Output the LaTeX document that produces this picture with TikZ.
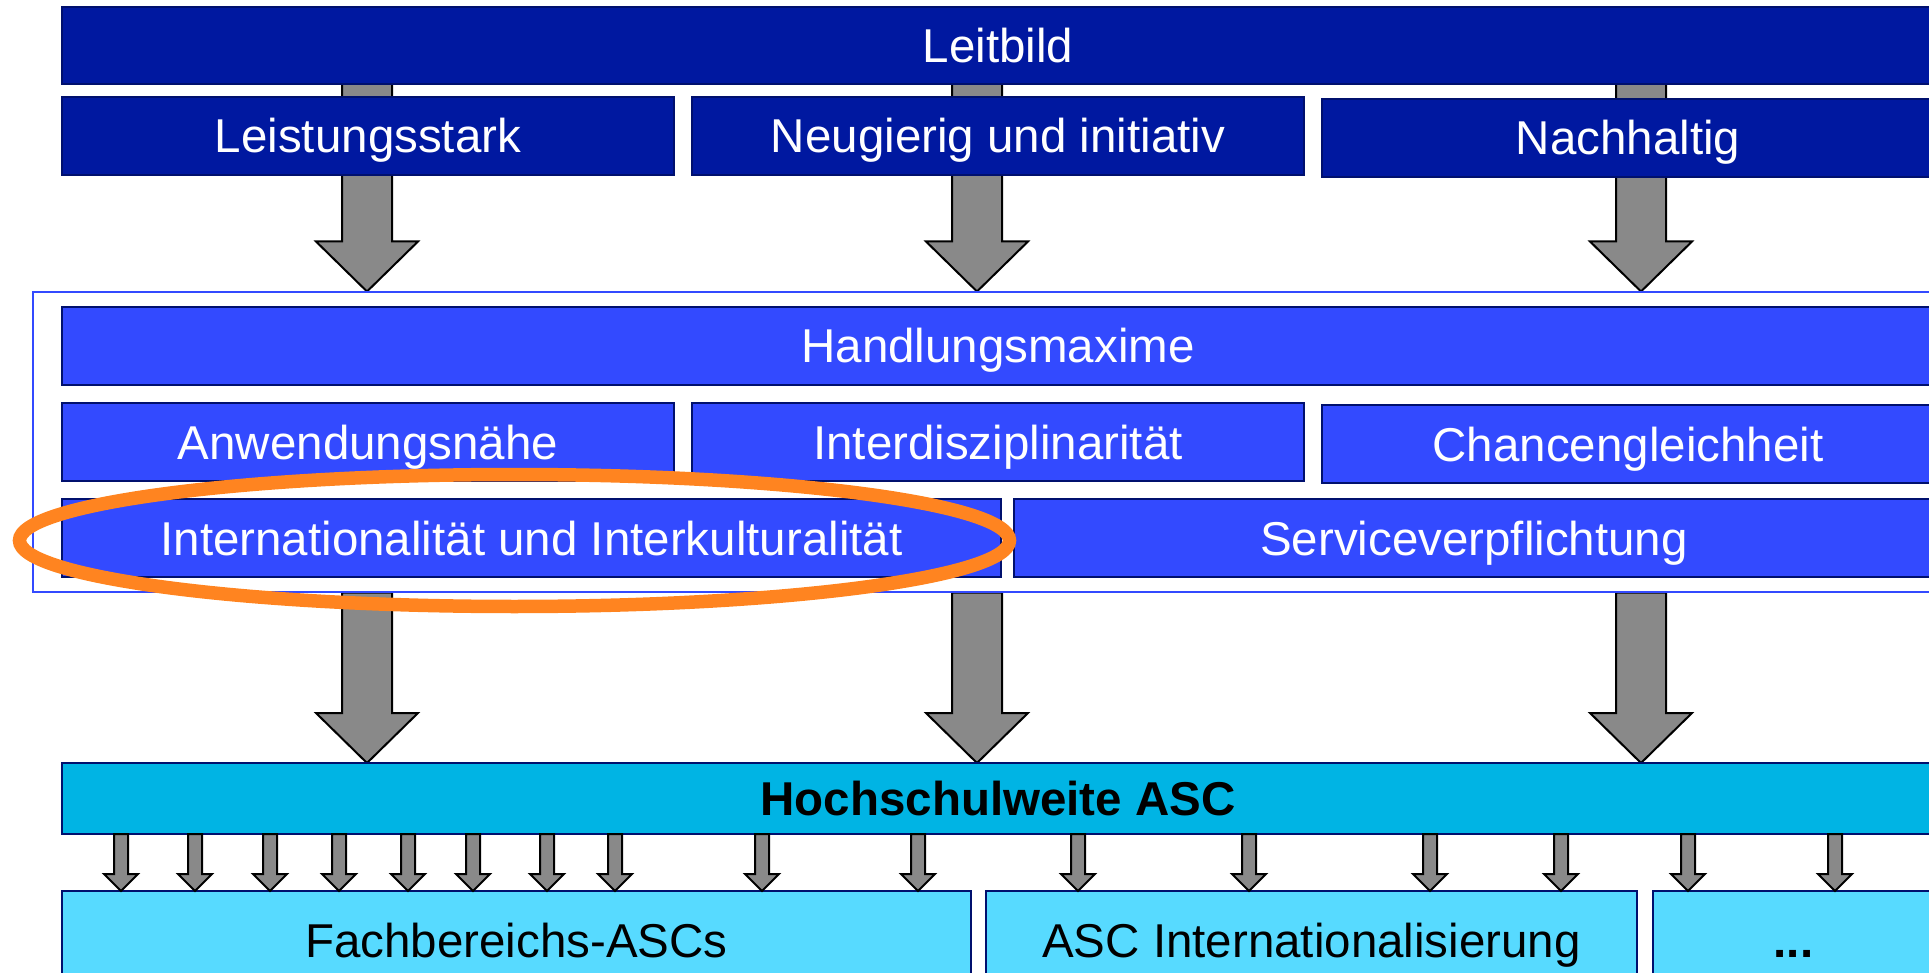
\documentclass[tikz,border=0pt]{standalone}
\usepackage{fontspec}
\setmainfont{Liberation Sans}
\usetikzlibrary{positioning,fit,backgrounds,calc,shapes.geometric}

\definecolor{leitnavy}{HTML}{0018A0}
\definecolor{maxblue}{HTML}{334AFF}
\definecolor{ascblue}{HTML}{00B4E4}
\definecolor{asclight}{HTML}{57DAFF}
\definecolor{edgenavy}{HTML}{00106E}
\definecolor{arrowgray}{HTML}{898989}
\definecolor{ringorange}{HTML}{FF8420}

% block arrow: x, from, to, shaft half width, head half width, head length
\newcommand\blockarrow[6]{%
  \edef\arrx{#1}%
  \path[blockarr] let \p1=(#2), \p2=(#3) in
    (\arrx-#4,\y1) -- (\arrx+#4,\y1) -- (\arrx+#4,\y2+#6) -- (\arrx+#5,\y2+#6)
    -- (\arrx,\y2) -- (\arrx-#5,\y2+#6) -- (\arrx-#4,\y2+#6) -- cycle;}

\begin{document}
\begin{tikzpicture}[
    font=\fontsize{23.75}{28}\selectfont,
    tile/.style={
        draw=edgenavy,
        line width=1pt,
        inner sep=0pt,
        outer sep=0pt,
        minimum height=39pt,
        text height=17pt,
        text depth=0pt,
        align=center
    },
    leit/.style={tile, fill=leitnavy, text=white},
    maxim/.style={tile, fill=maxblue, text=white},
    asc/.style={tile, fill=ascblue, text=black, font=\fontsize{23.75}{28}\selectfont\bfseries},
    unit/.style={tile, fill=asclight, text=black, minimum height=49pt},
    frame/.style={
        draw=maxblue,
        line width=1pt,
        inner xsep=14.5pt,
        inner ysep=7.25pt
    },
    blockarr/.style={fill=arrowgray, draw=black, line width=1pt},
    ring/.style={draw=ringorange, line width=6.75pt, ellipse, inner sep=0pt}
]

\useasboundingbox (0,0) rectangle (964.5pt,-486.5pt);
\clip (0,0) rectangle (964.5pt,-486.5pt);

% Leitbild
\node[leit, minimum width=936pt, minimum height=38.5pt, anchor=north west] (leitbild) at (31pt,-3.5pt) {Leitbild};
\node[leit, minimum width=306pt, below=6.5pt of leitbild.south west, anchor=north west] (lstark) {Leistungsstark};
\node[leit, minimum width=306pt, right=9pt of lstark] (neugier) {Neugierig und initiativ};
\node[leit, minimum width=306pt, right=9pt of neugier, yshift=-1pt] (nachhalt) {Nachhaltig};

% Handlungsmaxime
\node[maxim, minimum width=936pt, below=66pt of lstark.south west, anchor=north west] (handl) {Handlungsmaxime};
\node[maxim, minimum width=306pt, below=9pt of handl.south west, anchor=north west] (anwend) {Anwendungsnähe};
\node[maxim, minimum width=306pt, right=9pt of anwend] (interdis) {Interdisziplinarität};
\node[maxim, minimum width=306pt, right=9pt of interdis, yshift=-1pt] (chancen) {Chancengleichheit};
\node[maxim, minimum width=469.5pt, below=9pt of anwend.south west, anchor=north west] (internat) {Internationalität und Interkulturalität};
\node[maxim, minimum width=460pt, right=6.5pt of internat] (service) {Serviceverpflichtung};

\node[frame, fit=(handl)(internat)(service)] (frame) {};

% ASC
\node[asc, minimum width=936pt, minimum height=35.5pt, below=93pt of internat.south west, anchor=north west] (hsasc) {Hochschulweite ASC};
\node[unit, minimum width=454.5pt, below=28.5pt of hsasc.south west, anchor=north west] (fb) {Fachbereichs-ASCs};
\node[unit, minimum width=325.5pt, right=7.5pt of fb] (ascint) {ASC Internationalisierung};
\node[unit, minimum width=140.5pt, right=8pt of ascint] (dots) {\textbf{...}};

% Arrows
\begin{scope}[on background layer]
    \foreach \col in {183.5pt, 488.5pt, 820.5pt} {
        \blockarrow{\col}{leitbild.south}{frame.north}{12.5pt}{25.5pt}{25pt}
        \blockarrow{\col}{frame.south}{hsasc.north}{12.5pt}{25.5pt}{25pt}
    }
\end{scope}

\foreach \col/\tgt in {60.5/fb, 97.5/fb, 135/fb, 169.5/fb, 204/fb, 236.5/fb, 273.5/fb, 307.5/fb, 381/fb, 459/fb,
                       539/ascint, 624.5/ascint, 715/ascint, 780.5/ascint, 844/dots, 917.5/dots} {
    \blockarrow{\col pt}{hsasc.south}{\tgt.north}{3.5pt}{8.5pt}{8.5pt}
}

% Highlight
\node[ring, minimum width=495pt, minimum height=66pt] (focus) at ($(internat.center)+(-8.5pt,-1.25pt)$) {};

\end{tikzpicture}
\end{document}
